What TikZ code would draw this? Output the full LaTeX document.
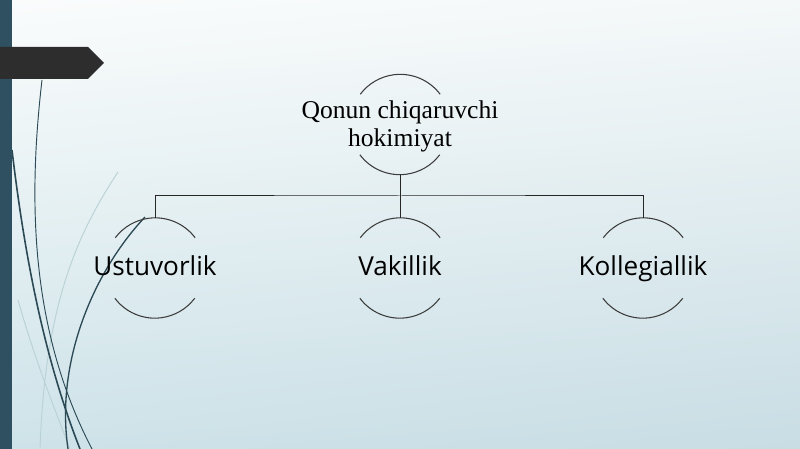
\documentclass[tikz,border=0pt]{standalone}
\usepackage{fontspec}
\usetikzlibrary{shadings}
\setmainfont{Liberation Serif}
\newfontfamily\labelfont{Open Sans}
\definecolor{bgtop}{RGB}{250,252,252}
\definecolor{bgtopr}{RGB}{244,248,249}
\definecolor{bgbotl}{RGB}{206,227,233}
\definecolor{bgbotr}{RGB}{200,221,228}
\definecolor{barcol}{RGB}{47,80,96}
\definecolor{bannercol}{RGB}{45,45,45}
\definecolor{wisp}{RGB}{44,74,86}
\definecolor{wispfaint}{RGB}{185,210,214}
\definecolor{arccol}{RGB}{60,60,60}
\tikzset{
  holder/.style={circle, minimum size=75pt, inner sep=0pt},
  toptext/.style={font=\fontsize{19.2}{19.5}\selectfont, align=center, inner sep=0pt},
  childtext/.style={font=\labelfont\fontsize{19.6}{22}\selectfont, inner sep=0pt, anchor=base},
  halfarc/.style={draw=arccol, line width=0.8pt},
  conn/.style={draw=black!85, line width=0.75pt},
}
\begin{document}
\begin{tikzpicture}[x=0.75pt,y=-0.75pt]
\useasboundingbox (0,0) rectangle (800,449);
\shade[upper left=bgtop, upper right=bgtopr, lower left=bgbotl, lower right=bgbotr] (0,0) rectangle (800,449);
% wisps
\draw[wispfaint, line width=0.7pt] (118,172) .. controls (80,230) and (45,300) .. (40,449);
\draw[wispfaint, line width=0.7pt] (18,300) .. controls (35,360) and (55,410) .. (70,449);
\draw[wisp, line width=0.7pt] (42,80) .. controls (28,200) and (30,330) .. (92,449);
\draw[wisp, line width=1.2pt] (12,150) .. controls (25,260) and (45,360) .. (80,449);
\draw[wisp, line width=1.0pt] (145,217) .. controls (95,270) and (55,360) .. (68,449);
% left bar and banner
\fill[barcol] (0,0) rectangle (12,449);
\fill[bannercol] (0,47) -- (88,47) -- (104,63) -- (88,79) -- (0,79) -- cycle;
% circles
\node[holder] (q) at (400,124.5) {};
\node[holder] (u) at (155,268) {};
\node[holder] (v) at (400,268) {};
\node[holder] (k) at (643,268) {};
\foreach \n in {q,u,v,k}{
  \draw[halfarc] (\n.37) arc[start angle=37, end angle=143, radius=37.5pt];
  \draw[halfarc] (\n.217) arc[start angle=217, end angle=323, radius=37.5pt];
}
\node[toptext] (qt) at (400,126.5) {Qonun chiqaruvchi\\[1.5pt]hokimiyat};
\node[childtext] (ut) at (155,276) {Ustuvorlik};
\node[childtext] (vt) at (400,276) {Vakillik};
\node[childtext] (kt) at (643,276) {Kollegiallik};
% connectors
\coordinate (j) at (400,196);
\draw[conn] (q.south) -- (j);
\draw[conn] (u.north) |- (j) -| (k.north);
\draw[conn] (j) -- (v.north);
\end{tikzpicture}
\end{document}
